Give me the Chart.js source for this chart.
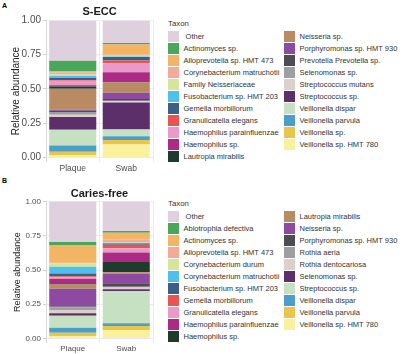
<!DOCTYPE html>
<html>
<head>
<meta charset="utf-8">
<script src="https://cdn.jsdelivr.net/npm/chart.js@4.4.1/dist/chart.umd.min.js"></script>
<style>
  html, body { margin: 0; padding: 0; background: #fff; }
  body { width: 401px; height: 354px; position: relative; overflow: hidden; font-family: "Liberation Sans", Arial, sans-serif; }
  .panel { position: absolute; left: 0; width: 401px; height: 177px; }
  .tag { position: absolute; left: 2px; font-size: 7px; font-weight: bold; color: #000; line-height: 8px; }
  .plot { position: absolute; left: 0; top: 0; width: 165px; height: 177px; }
  .legend { position: absolute; left: 168px; font-size: 7.5px; color: #333; }
  .legend .ttl { height: 12px; line-height: 12px; font-size: 7.8px; }
  .legend ul { list-style: none; margin: 0; padding: 0; display: grid; grid-template-rows: repeat(11, 12px); grid-auto-flow: column; grid-template-columns: 116px auto; }
  .legend li { display: flex; align-items: center; white-space: nowrap; }
  .legend li .sw { width: 11px; height: 11px; margin-right: 4.5px; flex: none; }
  .legend li .tx { white-space: pre; }
</style>
</head>
<body>
<div class="panel" style="top:0">
  <div class="tag" style="top:2px">A</div>
  <div class="plot"><canvas id="chartA"></canvas></div>
  <div class="legend" style="top:18px"><div class="ttl">Taxon</div><ul id="legendA"></ul></div>
</div>
<div class="panel" style="top:177px">
  <div class="tag" style="top:0px">B</div>
  <div class="plot"><canvas id="chartB"></canvas></div>
  <div class="legend" style="top:21px"><div class="ttl">Taxon</div><ul id="legendB"></ul></div>
</div>
<script>
const samples = ["Plaque", "Swab"];
const yTicks = [0, 0.25, 0.5, 0.75, 1];

// same colour order is used in both panels
const palette = ["#dfd0dd", "#4aa65a", "#f3b563", "#f4aa96", "#d6e59a", "#4fc0ee", "#3b5f86",
  "#e95450", "#e99ac8", "#ad2a84", "#1e3b2c", "#b88b63", "#8e4aa0", "#4f4b53", "#9e9ea3",
  "#dcd0cb", "#5c2f6b", "#c5e1c1", "#4b9ec8", "#e9c54c", "#f9f19b"];

// panel A, S-ECC
const taxaA = [" Other", "Actinomyces sp.", "Alloprevotella sp. HMT 473", "Corynebacterium matruchotii",
  "Family Neisseriaceae", "Fusobacterium sp. HMT 203", "Gemella morbillorum", "Granulicatella elegans",
  "Haemophilus parainfluenzae", "Haemophilus sp.", "Lautropia mirabilis", "Neisseria sp.",
  "Porphyromonas sp. HMT 930", "Prevotella Prevotella sp.", "Selenomonas sp.", "Streptococcus mutans",
  "Streptococcus sp.", "Veillonella dispar", "Veillonella parvula", "Veillonella sp.", "Veillonella sp. HMT 780"];
const plaqueA = [0.293, 0.075, 0.012, 0.014, 0.010, 0.014, 0.017, 0.004, 0.033, 0.009, 0.018,
  0.152, 0.007, 0.010, 0.020, 0.016, 0.094, 0.114, 0.046, 0.024, 0.018];
const swabA = [0.165, 0.010, 0.075, 0.008, 0.004, 0.005, 0.025, 0.020, 0.065, 0.073, 0.003,
  0.075, 0.045, 0.012, 0.005, 0.008, 0.197, 0.050, 0.028, 0.032, 0.095];

// panel B, Caries-free
const taxaB = [" Other", "Abiotrophia defectiva", "Actinomyces sp.", "Alloprevotella sp. HMT 473",
  "Corynebacterium durum", "Corynebacterium matruchotii", "Fusobacterium sp. HMT 203", "Gemella morbillorum",
  "Granulicatella elegans", "Haemophilus parainfluenzae", "Haemophilus sp.", "Lautropia mirabilis",
  "Neisseria sp.", "Porphyromonas sp. HMT 930", "Rothia aeria", "Rothia dentocariosa", "Selenomonas sp.",
  "Streptococcus sp.", "Veillonella dispar", "Veillonella parvula", "Veillonella sp. HMT 780"];
const plaqueB = [0.295, 0.022, 0.130, 0.004, 0.025, 0.050, 0.020, 0.006, 0.012, 0.038, 0.004,
  0.030, 0.130, 0.005, 0.020, 0.025, 0.018, 0.088, 0.036, 0.024, 0.018];
const swabB = [0.215, 0.012, 0.050, 0.020, 0.003, 0.006, 0.010, 0.025, 0.030, 0.070, 0.076,
  0.010, 0.070, 0.025, 0.006, 0.012, 0.013, 0.235, 0.020, 0.030, 0.062];

Chart.defaults.font.family = '"Liberation Sans", Arial, sans-serif';

// legend as html list so it can wrap into two columns like the figure
const htmlLegend = {
  id: 'htmlLegend',
  afterUpdate(chart, args, opts) {
    const ul = document.getElementById(opts.containerID);
    ul.innerHTML = '';
    const items = chart.options.plugins.legend.labels.generateLabels(chart).reverse();
    items.forEach(item => {
      const li = document.createElement('li');
      const box = document.createElement('span');
      box.className = 'sw';
      box.style.background = item.fillStyle;
      const txt = document.createElement('span');
      txt.className = 'tx';
      txt.textContent = item.text;
      li.appendChild(box);
      li.appendChild(txt);
      ul.appendChild(li);
    });
  }
};

function drawPanel(canvasId, legendId, title, taxa, plaque, swab, f) {
  // ggplot stacks the first level on top, chart.js stacks the first dataset at the bottom
  const datasets = taxa.map((name, i) => ({
    label: name,
    data: [plaque[i], swab[i]],
    backgroundColor: palette[i],
    borderWidth: 0,
    barPercentage: 0.88,
    categoryPercentage: 1
  })).reverse();

  new Chart(document.getElementById(canvasId), {
    type: 'bar',
    data: { labels: samples, datasets: datasets },
    options: {
      responsive: true,
      maintainAspectRatio: false,
      animation: false,
      layout: { padding: { left: 0, right: 12, top: 0, bottom: 0 } },
      plugins: {
        legend: { display: false },
        tooltip: { enabled: false },
        title: {
          display: true,
          text: title,
          fullSize: false,
          color: '#1a1a1a',
          font: { size: 11, weight: 'bold' },
          padding: f.titlePad
        },
        htmlLegend: { containerID: legendId }
      },
      scales: {
        x: {
          stacked: true,
          border: { display: false },
          grid: { color: '#ebebeb', drawTicks: false, offset: true },
          ticks: { color: '#4d4d4d', font: { size: f.xSize }, padding: f.xPad },
          afterFit: s => { s.height = f.xHeight; }
        },
        y: {
          stacked: true,
          min: -0.03,
          max: 1,
          border: { color: '#d9d9d9' },
          grid: { color: '#ebebeb', tickColor: '#cfcfcf', tickLength: 3 },
          afterBuildTicks: s => { s.ticks = yTicks.map(v => ({ value: v })); },
          ticks: { color: '#4d4d4d', font: { size: f.ySize }, padding: 2, callback: v => v.toFixed(2) },
          title: {
            display: true,
            text: 'Relative abundance',
            color: '#1a1a1a',
            font: { size: f.yTitleSize },
            padding: { top: f.yTitlePad, bottom: 0 }
          },
          afterFit: s => { s.width = 46; }
        }
      }
    },
    plugins: [htmlLegend]
  });
}

drawPanel('chartA', 'legendA', 'S-ECC', taxaA, plaqueA, swabA, {
  titlePad: { top: 5, bottom: 2.3 }, xHeight: 15.4, xSize: 8.5, xPad: 2,
  ySize: 10, yTitleSize: 10, yTitlePad: 10
});
drawPanel('chartB', 'legendB', 'Caries-free', taxaB, plaqueB, swabB, {
  titlePad: { top: 10.4, bottom: 1 }, xHeight: 11.4, xSize: 8, xPad: 1,
  ySize: 8, yTitleSize: 9, yTitlePad: 12
});
</script>
</body>
</html>
